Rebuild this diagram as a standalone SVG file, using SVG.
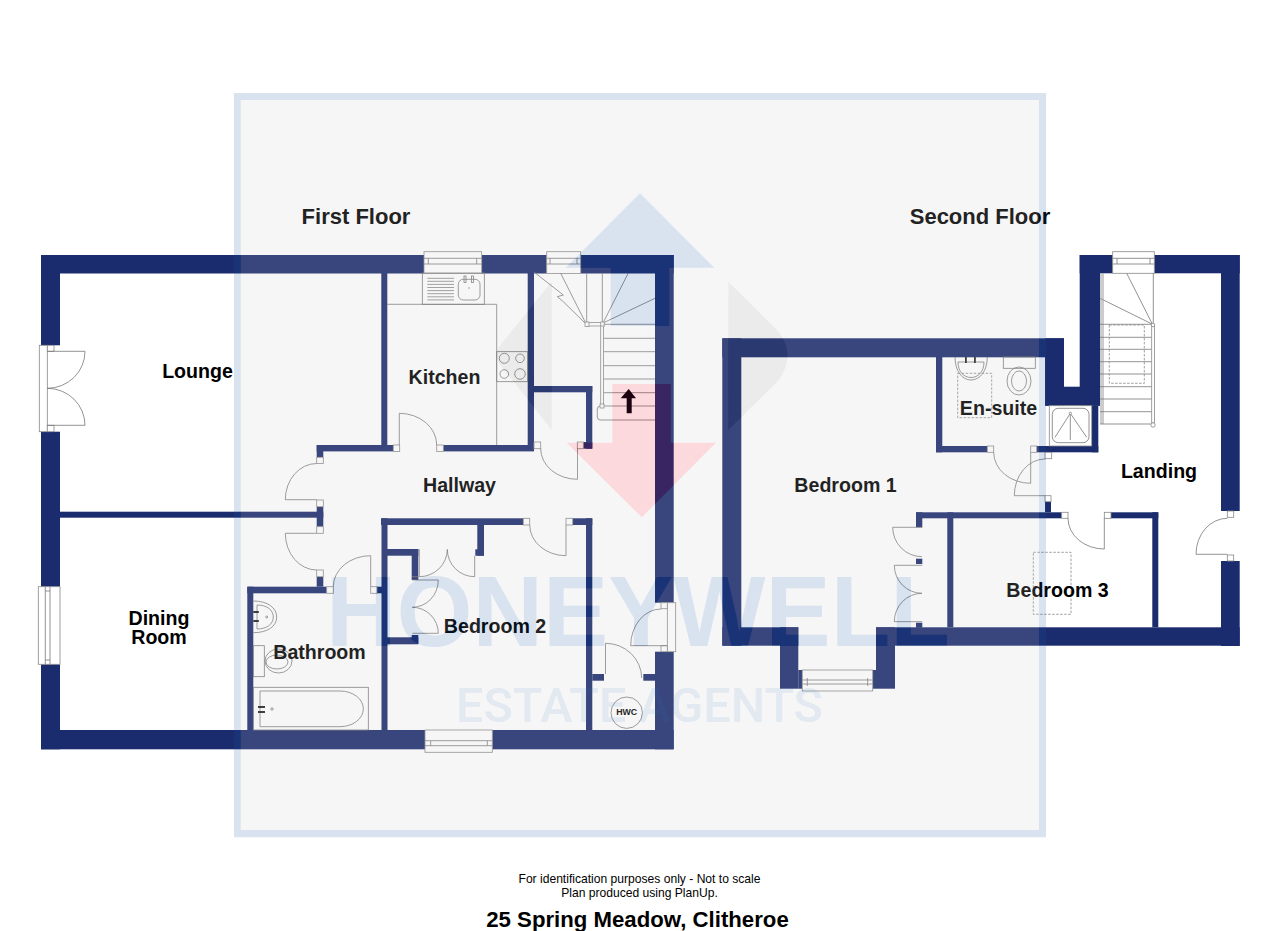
<svg xmlns="http://www.w3.org/2000/svg" width="1280" height="931" viewBox="0 0 1280 931">
<style>
svg{font-family:"Liberation Sans",Arial,sans-serif}
.w{fill:#1b2c6e}
.l{fill:none;stroke:#777;stroke-width:.8}
.g{fill:none;stroke:#999;stroke-width:1}
.b{fill:#fff;stroke:#888;stroke-width:.8}
.d{fill:none;stroke:#888;stroke-width:.8;stroke-dasharray:2.5 1.5}
.k{fill:#222}
.r{font-size:19.6px;font-weight:700;text-anchor:middle;fill:#000}
.h{font-size:22px;font-weight:700;text-anchor:middle;fill:#000}
.n{font-size:12.1px;text-anchor:middle;fill:#000}
</style>
<defs>
<path id="wm-up" d="M640,193.3L714.3,267.7H669.3V326H610.7V267.7H565.7Z"/>
<path id="wm-down" d="M612.3,384H670.7V442.7H716L641.7,517.3L566.7,442.7H612.3Z"/>
<path id="wm-left" d="M551.7,281.7V430L502,367Q491,355 502,343Z"/>
<path id="wm-right" d="M728.3,281.7L778,331Q797,355 778,381L728.3,430Z"/>
<text id="wm-t1" x="326" y="646" font-size="100" font-weight="700" textLength="624" lengthAdjust="spacingAndGlyphs">HONEYWELL</text>
<mask id="wm-cut" maskUnits="userSpaceOnUse" x="0" y="0" width="1280" height="931">
<rect width="1280" height="931" fill="#fff"/>
<g fill="#000">
<use href="#wm-up"/><use href="#wm-down"/><use href="#wm-left"/><use href="#wm-right"/><use href="#wm-t1"/>
</g>
</mask>
</defs>
<rect width="1280" height="931" fill="#fff"/>

<g id="first-floor-walls">
<rect class="w" x="41" y="255" width="383" height="18.5"/>
<rect class="w" x="481.7" y="255" width="65" height="18.5"/>
<rect class="w" x="580.7" y="255" width="93" height="18.5"/>
<rect class="w" x="41" y="255" width="19" height="90.3"/>
<rect class="w" x="41" y="431.7" width="19" height="155"/>
<rect class="w" x="41" y="664.3" width="19" height="85"/>
<rect class="w" x="41" y="730" width="384" height="19.3"/>
<rect class="w" x="492.3" y="730" width="181.4" height="19.3"/>
<rect class="w" x="655" y="255" width="18.7" height="347.7"/>
<rect class="w" x="655" y="651.7" width="18.7" height="97.6"/>
<rect class="w" x="60" y="511.7" width="263.3" height="6"/>
<rect class="w" x="316.7" y="506.7" width="6.6" height="20"/>
<rect class="w" x="316.7" y="445" width="76.6" height="6.4"/>
<rect class="w" x="316.7" y="445" width="6.6" height="12.3"/>
<rect class="w" x="443.3" y="445" width="90.7" height="6.4"/>
<rect class="w" x="381.3" y="273" width="6" height="172"/>
<rect class="w" x="527.7" y="273" width="6.3" height="178"/>
<rect class="w" x="534" y="386" width="58.3" height="6.3"/>
<rect class="w" x="586" y="386" width="6.3" height="62.7"/>
<rect class="w" x="583.3" y="442" width="9" height="6.7"/>
<rect class="w" x="381" y="518.3" width="142.3" height="6.7"/>
<rect class="w" x="572.7" y="518.3" width="19.6" height="6.7"/>
<rect class="w" x="586" y="518.3" width="6.3" height="212"/>
<rect class="w" x="381.5" y="518.3" width="6" height="212"/>
<rect class="w" x="247.3" y="586.7" width="6" height="143.3"/>
<rect class="w" x="247.3" y="586.7" width="79.4" height="6.6"/>
<rect class="w" x="316.7" y="576.7" width="6.6" height="10"/>
<rect class="w" x="377" y="586.7" width="5" height="6.6"/>
<rect class="w" x="387" y="549" width="31.3" height="6.7"/>
<rect class="w" x="411.7" y="549" width="6.6" height="31"/>
<rect class="w" x="387" y="637.3" width="31.3" height="7"/>
<rect class="w" x="411.7" y="635" width="6.6" height="9"/>
<rect class="w" x="477.3" y="525" width="6.7" height="30.7"/>
<rect class="w" x="475.3" y="549.3" width="8.7" height="6.4"/>
<rect class="w" x="592.3" y="674" width="11.7" height="6.7"/>
<rect class="w" x="643.3" y="674" width="11.7" height="6.7"/>
</g>

<g id="second-floor-walls">
<rect class="w" x="722.3" y="338.3" width="341.7" height="19"/>
<rect class="w" x="722.3" y="338.3" width="19" height="307.4"/>
<rect class="w" x="722.3" y="627.3" width="76" height="18.4"/>
<rect class="w" x="780" y="627.3" width="18.3" height="61.4"/>
<rect class="w" x="798.3" y="670" width="4" height="18.7"/>
<rect class="w" x="876" y="627.3" width="19" height="61.4"/>
<rect class="w" x="872.7" y="670" width="3.3" height="18.7"/>
<rect class="w" x="876" y="627.3" width="363.7" height="18.4"/>
<rect class="w" x="1045" y="338.3" width="19" height="67.4"/>
<rect class="w" x="1045" y="386.7" width="55" height="19"/>
<rect class="w" x="1079.7" y="255" width="20.3" height="150.7"/>
<rect class="w" x="1079.7" y="255" width="33" height="18.3"/>
<rect class="w" x="1154.3" y="255" width="85.4" height="18.3"/>
<rect class="w" x="1221" y="255" width="18.7" height="256"/>
<rect class="w" x="1221" y="561" width="18.7" height="85"/>
<rect class="w" x="1091.7" y="405.7" width="6.6" height="46.6"/>
<rect class="w" x="936" y="357" width="6.3" height="95.3"/>
<rect class="w" x="936" y="446" width="51.3" height="6.3"/>
<rect class="w" x="1036.7" y="446" width="61.6" height="6.3"/>
<rect class="w" x="1045" y="501.7" width="6" height="10.6"/>
<rect class="w" x="916" y="512.3" width="145.7" height="6"/>
<rect class="w" x="1111" y="512.3" width="47.3" height="6"/>
<rect class="w" x="1152.3" y="512.3" width="6" height="115"/>
<rect class="w" x="947.3" y="512.3" width="6" height="115"/>
<rect class="w" x="916" y="512.3" width="6.3" height="15"/>
<rect class="w" x="916" y="558.7" width="6.3" height="5.3"/>
<rect class="w" x="916" y="622.7" width="6.3" height="5"/>
</g>

<g id="windows">
<rect class="b" x="424" y="251.7" width="57.7" height="21.8"/>
<path class="l" d="M424,258.3H481.7M424,264H481.7M428.3,258.3V264M476.7,258.3V264"/>
<rect class="b" x="546.7" y="251.7" width="34" height="21.8"/>
<path class="l" d="M546.7,258.3H580.7M546.7,264H580.7M550,258.3V264M577,258.3V264"/>
<rect class="b" x="38.3" y="586.7" width="21.7" height="77.6"/>
<path class="l" d="M45.3,586.7V664.3M50,586.7V664.3M45.3,591H50M45.3,660H50"/>
<rect class="b" x="425" y="730" width="67.3" height="22.3"/>
<path class="l" d="M425,740.7H492.3M425,745.7H492.3M430.7,740.7V745.7M487.3,740.7V745.7"/>
<rect class="b" x="802.3" y="670" width="70.4" height="21"/>
<path class="l" d="M802.3,680H872.7M802.3,684H872.7M807.3,678V686M867.7,678V686"/>
<rect class="b" x="1112.7" y="251.7" width="41.6" height="21.6"/>
<path class="l" d="M1112.7,258.3H1154.3M1112.7,264H1154.3M1117,258.3V264M1150,258.3V264"/>
</g>

<g id="doors">
<rect class="b" x="39.3" y="345.3" width="8" height="86.4"/>
<rect class="b" x="47.3" y="345.3" width="6.7" height="6"/>
<rect class="b" x="47.3" y="425.3" width="6.7" height="6.4"/>
<path class="l" d="M47.3,351.3H85A37.7,37 0 0 1 47.3,388.3A37.7,37 0 0 1 85,425.3H47.3"/>
<rect class="b" x="316.7" y="457.3" width="6.6" height="6.2"/>
<rect class="b" x="316.7" y="500" width="6.6" height="6.7"/>
<path class="l" d="M316.7,463.5A31.4,36.2 0 0 0 285.3,499.7H316.7"/>
<rect class="b" x="316.7" y="526.7" width="6.6" height="6.6"/>
<rect class="b" x="316.7" y="570" width="6.6" height="6.7"/>
<path class="l" d="M316.7,533.3H285.3A31.4,36.7 0 0 0 316.7,570"/>
<rect class="b" x="326.7" y="586.7" width="6.6" height="6.6"/>
<rect class="b" x="370.7" y="586.7" width="6.3" height="6.6"/>
<path class="l" d="M333.3,586.7A37.4,31 0 0 1 370.7,555.7V586.7"/>
<rect class="b" x="393.3" y="445" width="6.4" height="6.4"/>
<rect class="b" x="436.7" y="445" width="6.6" height="6.4"/>
<path class="l" d="M399.3,445V413.3A37.4,31.7 0 0 1 436.7,445"/>
<rect class="b" x="534" y="442" width="6.7" height="6.7"/>
<rect class="b" x="577.3" y="442" width="6" height="6.7"/>
<path class="l" d="M540.7,448.7A36.8,30.6 0 0 0 577.5,479.3V448.7"/>
<rect class="b" x="523.3" y="518.3" width="6.4" height="6.7"/>
<rect class="b" x="566" y="518.3" width="6.7" height="6.7"/>
<path class="l" d="M529.7,525A36.3,30.7 0 0 0 566,555.7V525"/>
<path class="l" d="M419.3,576.7H412M419.3,549.3V576.7A28,27.4 0 0 0 447.3,549.3A27.4,27.4 0 0 0 474.7,576.7V555.7"/>
<path class="l" d="M412.3,580H438.3A26,27.3 0 0 1 412.3,607.3A26,26 0 0 1 438.3,633.3H412.3"/>
<path class="l" d="M605.5,674V643.3A36.2,35 0 0 1 641.7,678"/>
<rect class="b" x="667.3" y="602.7" width="8.4" height="49"/>
<rect class="b" x="661" y="602.7" width="6.3" height="6"/>
<rect class="b" x="661" y="645.7" width="6.3" height="6"/>
<path class="l" d="M667,645.7H630.7A30.3,36.7 0 0 1 661,609"/>
<rect class="b" x="987.3" y="446" width="6.4" height="6.3"/>
<rect class="b" x="1030.7" y="446" width="6" height="6.3"/>
<path class="l" d="M993.7,452.3A37,31 0 0 0 1030.7,483.3V452.3"/>
<rect class="b" x="1045" y="452.3" width="6.7" height="6.4"/>
<rect class="b" x="1045" y="495.7" width="6" height="6"/>
<path class="l" d="M1045,495.7H1014.3A30.7,36.7 0 0 1 1045,459"/>
<rect class="b" x="1061.7" y="512.3" width="6.3" height="6"/>
<rect class="b" x="1104.3" y="512.3" width="6.7" height="6"/>
<path class="l" d="M1068,518.3A36.3,30.7 0 0 0 1104.3,549V518.3"/>
<rect class="b" x="1227.3" y="511" width="6.4" height="6.3"/>
<rect class="b" x="1227.3" y="555" width="6.4" height="6"/>
<path class="l" d="M1227.3,554.3H1196A31.3,36 0 0 1 1227.3,518.3"/>
<path class="l" d="M922.3,527.3H892.7A29.3,29.4 0 0 0 922,556.7"/>
<path class="l" d="M922.3,565.3H894.3A27.7,28 0 0 0 922,593.3A27.7,28.4 0 0 0 894.3,621.7H922.3"/>
</g>

<g id="kitchen-fittings">
<path class="l" d="M387,304.3H496.7V445"/>
<rect class="l" x="422.3" y="273" width="62" height="31.3"/>
<path class="g" d="M427.3,278.3H454M427.3,281.3H454M427.3,284.4H454M427.3,287.5H454M427.3,290.6H454M427.3,293.7H454M427.3,296.8H454M427.3,299.9H454"/>
<rect class="l" x="458.3" y="279.3" width="21.7" height="20.7" rx="5"/>
<rect class="l" x="464" y="276" width="2" height="6.5"/>
<rect class="l" x="471.5" y="276" width="2" height="6.5"/>
<circle cx="469" cy="288" r=".7" fill="#777"/>
<rect class="l" x="496.7" y="351.7" width="31" height="30"/>
<circle class="l" cx="504.3" cy="358.3" r="5"/>
<circle class="l" cx="520" cy="358.3" r="4.3"/>
<circle class="l" cx="504.3" cy="374" r="4.3"/>
<circle class="l" cx="520" cy="374" r="5.3"/>
</g>

<g id="first-floor-stairs">
<path class="l" d="M534,272L563.3,295L557.3,296.7L563.3,301.7L585,323"/>
<path class="l" d="M560.7,273.3L585.7,323M586.7,273V323M602.3,273V323M628.3,273L603,323M655,298.3L603,323"/>
<path class="l" d="M603,324.3H655M603.5,338.3H655M603.5,351.7H655M603.5,365.7H655M603.5,379H655M603.5,392.7H655M603.5,406H655"/>
<path class="l" d="M655,420H600A3,3 0 0 1 597.3,417V409A3,3 0 0 1 600,406H603"/>
<rect class="b" x="587" y="322.5" width="15" height="3.5"/>
<rect class="b" x="585" y="322" width="4" height="4.5"/>
<rect class="b" x="600.7" y="322" width="3.5" height="4.5"/>
<rect class="b" x="600.7" y="326" width="2.7" height="79"/>
<rect class="b" x="600" y="404" width="4" height="4"/>
</g>

<g id="second-floor-stairs">
<path class="l" d="M1126.7,273.3L1152.3,324M1100,298.3L1152,324M1153.3,273V325"/>
<path class="g" d="M1101,273.3V424M1103,273.3V424"/>
<path class="l" d="M1100,324.3H1151.7M1100,337.3H1151.7M1100,349.3H1151.7M1100,361.7H1151.7M1100,374H1151.7M1100,386.7H1151.7M1100,399H1151.7M1100,411.7H1151.7M1100,424H1151.7"/>
<rect class="b" x="1151.7" y="325" width="2.7" height="98"/>
<circle class="b" cx="1153" cy="325" r="1.8"/>
<circle class="b" cx="1153" cy="425" r="2.2"/>
<rect class="d" x="1109.3" y="325" width="35" height="58.3"/>
</g>

<g id="bathroom-fittings">
<path class="l" d="M253.3,601C268,601 276.7,608 276.7,617C276.7,626 268,632.7 253.3,632.7"/>
<path class="l" d="M257,605C267,605 273.3,610 273.3,617C273.3,624 267,629 257,629V605Z"/>
<rect class="k" x="253.3" y="611" width="5.5" height="2"/>
<rect class="k" x="253.3" y="620" width="5.5" height="2"/>
<circle class="l" cx="266.7" cy="617" r="1"/>
<rect class="l" x="253.3" y="645.7" width="11" height="31"/>
<ellipse class="l" cx="278.5" cy="661" rx="13.5" ry="12"/>
<ellipse class="l" cx="277" cy="662" rx="11" ry="7"/>
<rect class="l" x="253.3" y="687.3" width="115" height="42.7"/>
<path class="l" d="M260,691H340A23.3,17.8 0 0 1 340,726.7H260Z"/>
<rect class="k" x="258" y="706" width="7" height="2"/>
<rect class="k" x="258" y="711" width="7" height="2"/>
<circle class="l" cx="272" cy="709" r="1.2"/>
</g>

<g id="ensuite-fittings">
<path class="l" d="M955,357C955,371 962,380 971,380C980,380 987.3,371 987.3,357"/>
<path class="l" d="M958,362H984C984,372 978,377.5 971,377.5C964,377.5 958,372 958,362Z"/>
<rect class="k" x="965" y="357" width="1.8" height="6"/>
<rect class="k" x="974" y="357" width="1.8" height="6"/>
<rect class="d" x="957.7" y="373.3" width="34" height="44.4"/>
<rect class="l" x="1003.3" y="357" width="32" height="11.3"/>
<ellipse class="l" cx="1019" cy="381" rx="12" ry="14"/>
<ellipse class="l" cx="1019" cy="381" rx="7.5" ry="10"/>
<rect class="b" x="1049.3" y="405.7" width="42.4" height="40.3"/>
<rect class="l" x="1052.3" y="408.3" width="36.7" height="34.4" rx="6"/>
<path class="l" d="M1055,437.3L1070.3,413.3L1086.7,437.3M1070.3,413.3V440"/>
<circle class="b" cx="1070.3" cy="413.3" r="1.2"/>
<rect class="d" x="1033.3" y="552.3" width="37.7" height="62"/>
</g>

<g id="hwc">
<circle class="l" cx="626.7" cy="712.7" r="15.7"/>
<text x="626.7" y="715" font-size="8.8" font-weight="700" text-anchor="middle" fill="#000">HWC</text>
</g>

<g id="labels">
<text class="h" x="356" y="224">First Floor</text>
<text class="h" x="980" y="224">Second Floor</text>
<text class="r" x="197.5" y="378.3">Lounge</text>
<text class="r" x="444.5" y="384">Kitchen</text>
<text class="r" x="459.5" y="491.7">Hallway</text>
<text class="r" x="159" y="624.5">Dining</text>
<text class="r" x="159" y="644">Room</text>
<text class="r" x="319.5" y="659.3">Bathroom</text>
<text class="r" x="495" y="632.7">Bedroom 2</text>
<text class="r" x="845.5" y="492.3">Bedroom 1</text>
<text class="r" x="998.5" y="415">En-suite</text>
<text class="r" x="1159" y="478.3">Landing</text>
<text class="r" x="1057.5" y="596.7">Bedroom 3</text>
</g>

<g id="watermark">
<path fill="rgba(200,200,200,.17)" mask="url(#wm-cut)" d="M240.7,100H1039V830H240.7Z"/>
<path fill="rgba(25,90,161,.17)" fill-rule="evenodd" d="M234,93H1046V837.3H234ZM240.7,100V830H1039V100Z"/>
<use href="#wm-up" fill="rgba(25,90,161,.17)"/>
<use href="#wm-down" fill="rgba(230,0,30,.15)"/>
<use href="#wm-left" fill="rgba(130,130,130,.16)"/>
<use href="#wm-right" fill="rgba(130,130,130,.16)"/>
<use href="#wm-t1" fill="rgba(25,90,161,.17)"/>
<text x="456" y="721.7" font-family="Roboto,'Liberation Sans',sans-serif" font-size="49" font-weight="500" textLength="367" lengthAdjust="spacingAndGlyphs" fill="rgba(50,120,200,.1)">ESTATE AGENTS</text>
</g>

<g id="stair-arrow">
<path fill="#1c0010" d="M628.7,389L636,398.3H631.7V413.3H626.7V398.3H620.7Z"/>
</g>

<g id="footer">
<text class="n" x="639.5" y="883.3">For identification purposes only - Not to scale</text>
<text class="n" x="639.5" y="896.7">Plan produced using PlanUp.</text>
<text x="637.5" y="926.5" font-size="22.2" font-weight="700" text-anchor="middle" fill="#000">25 Spring Meadow, Clitheroe</text>
</g>
</svg>
